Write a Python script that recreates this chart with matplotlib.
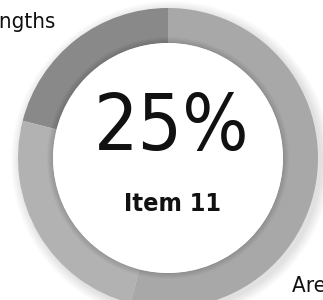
import numpy as np
import matplotlib.pyplot as plt
from matplotlib.patches import Circle, Wedge

# segments, counter-clockwise from 12 o'clock
segment_values = [21, 25, 54]
segment_colors = ["#898989", "#b2b2b2", "#a8a8a8"]
outer_labels = ["Strengths", "Areas for Improvement"]
center_value = "25%"
center_item = "Item 11"

plt.rcParams["font.family"] = ["DejaVu Sans"]

fig = plt.figure(figsize=(3.23, 3.0), dpi=100)
ax = fig.add_axes([0, 0, 1, 1])

cx, cy, r_out, ring = 168, 142, 150, 35

# soft drop shadow behind the ring
for i in range(10):
    ax.add_patch(Circle((cx + 3, cy - 3), r_out + 10 - i, color="black",
                        alpha=0.012, lw=0, zorder=0))

wedges, _ = ax.pie(segment_values, radius=r_out, center=(cx, cy), startangle=90,
                   counterclock=True, colors=segment_colors,
                   wedgeprops=dict(width=ring, linewidth=0))
for w in wedges:
    w.set_zorder(1)

# inner shading near the hole
for i in range(6):
    ax.add_patch(Wedge((cx, cy), r_out - ring + 6 - i, 0, 360, width=6 - i,
                       color="black", alpha=0.025, lw=0, zorder=2))

ax.add_patch(Circle((cx, cy), r_out - ring, color="white", lw=0, zorder=3))

ax.text(cx + 4, cy + 30, center_value, ha="center", va="center", fontsize=56,
        fontstretch="condensed", fontweight="light", color="#111111", zorder=4)
ax.text(cx + 5, cy - 46, center_item, ha="center", va="center", fontsize=18,
        fontstretch="condensed", fontweight="bold", color="#111111", zorder=4)

ax.text(56, 272, outer_labels[0], ha="right", va="baseline", fontsize=16,
        fontstretch="condensed", color="#111111")
ax.text(292, 8, outer_labels[1], ha="left", va="baseline", fontsize=16,
        fontstretch="condensed", color="#111111")

ax.set_xlim(0, 323)
ax.set_ylim(0, 300)
ax.set_aspect("auto")
ax.axis("off")

fig.savefig("out.png", dpi=100)
